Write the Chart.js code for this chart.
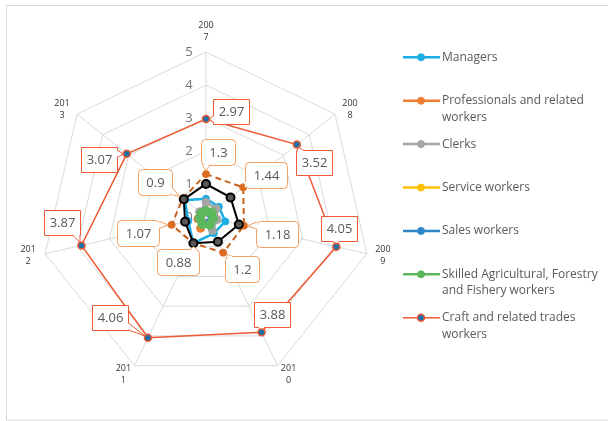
<!DOCTYPE html>
<html>
<head>
<meta charset="utf-8">
<script src="https://cdn.jsdelivr.net/npm/chart.js@4.4.0/dist/chart.umd.min.js"></script>
<style>
  html, body { margin: 0; padding: 0; background: #fff; }
  #wrap { position: relative; width: 608px; height: 421px; overflow: hidden; }
  canvas { display: block; }
</style>
</head>
<body>
<div id="wrap"><canvas id="chart" width="608" height="421"></canvas></div>
<script>
// Data
const years = ['2007', '2008', '2009', '2010', '2011', '2012', '2013'];
const tickValues = [0, 1, 2, 3, 4, 5];

const managers = [0.55, 0.5, 0.6, 0.55, 0.88, 0.55, 0.82];
const professionals = [0.2, 0.2, 0.22, 0.25, 0.38, 0.25, 0.2];
const clerks = [0.45, 0.4, 0.35, 0.45, 0.25, 0.2, 0.25];
const serviceWorkers = [0.15, 0.18, 0.18, 0.2, 0.2, 0.15, 0.15];
const salesWorkers = [0.15, 0.15, 0.18, 0.18, 0.2, 0.18, 0.15];
const skilledAgri = [0.18, 0.22, 0.22, 0.26, 0.24, 0.2, 0.18];
const craftWorkers = [2.97, 3.52, 4.05, 3.88, 4.06, 3.87, 3.07];
const dashedSeries = [1.3, 1.44, 1.18, 1.2, 0.88, 1.07, 0.9];
const blackSeries = [1.0, 0.95, 1.02, 0.83, 0.88, 0.65, 0.86];

const legendNames = [
    'Managers',
    'Professionals and related workers',
    'Clerks',
    'Service workers',
    'Sales workers',
    'Skilled Agricultural, Forestry and Fishery workers',
    'Craft and related trades workers'
];

const FONT = '"Open Sans", "Noto Sans", sans-serif';

// dataset builder: later series in the list are drawn on top
function series(label, data, color, opts) {
    opts = opts || {};
    return {
        label: label,
        data: data,
        fill: false,
        borderColor: color,
        backgroundColor: color,
        borderWidth: opts.width || 2.5,
        borderDash: opts.dash || [],
        pointRadius: opts.radius || 3.5,
        pointBackgroundColor: opts.pointFill || color,
        pointBorderColor: opts.pointBorder || color,
        pointBorderWidth: opts.pointBorderWidth || 1,
        showInLegend: opts.legend !== false
    };
}

const datasets = [
    series(legendNames[0], managers, '#1CADE4'),
    series(legendNames[1], professionals, '#ED7D31', { radius: 4 }),
    series(legendNames[2], clerks, '#A5A5A5', { radius: 4 }),
    series(legendNames[3], serviceWorkers, '#FFC000'),
    series(legendNames[4], salesWorkers, '#2E86C8'),
    series(legendNames[5], skilledAgri, '#5CB85C', { radius: 4.5, width: 3 }),
    series(legendNames[6], craftWorkers, '#EE5A33', { width: 1.5, pointFill: '#1D6FA5', pointBorder: '#EE5A33', pointBorderWidth: 1.5, radius: 3.5 }),
    series('', dashedSeries, '#C8611C', { width: 2, dash: [6, 4], pointFill: '#DD6B22', pointBorder: '#DD6B22', legend: false }),
    series('', blackSeries, '#000000', { width: 2, pointFill: '#595959', pointBorder: '#000000', pointBorderWidth: 2, radius: 4, legend: false })
];
datasets.forEach((d, i) => { d.order = datasets.length - i; });

// label placement relative to the scale (style only)
const yearLabelOffsets = [[0, -21], [15, -5], [16, 2], [11, 8.5], [-11, 8.5], [-17, 2], [-15, -5]];
const craftLabelOffsets = [[24.5, -7.5], [17, 18], [3, -18], [10.5, -17.5], [-37.5, -20], [-19.5, -22.7], [-27.7, 6]];
const dashedLabelOffsets = [[12, -22], [23.3, -12], [33, 8], [19, 16.6], [-15, 18.5], [-33.6, 8], [-28, -16.5]];

function boxPath(ctx, x, y, w, h, r) {
    ctx.beginPath();
    ctx.moveTo(x + r, y);
    ctx.lineTo(x + w - r, y);
    if (r) ctx.arcTo(x + w, y, x + w, y + r, r);
    ctx.lineTo(x + w, y + h - r);
    if (r) ctx.arcTo(x + w, y + h, x + w - r, y + h, r);
    ctx.lineTo(x + r, y + h);
    if (r) ctx.arcTo(x, y + h, x, y + h - r, r);
    ctx.lineTo(x, y + r);
    if (r) ctx.arcTo(x, y, x + r, y, r);
    ctx.closePath();
}

function drawCallout(ctx, text, px, py, off, style) {
    ctx.font = '13px ' + FONT;
    const w = Math.round(ctx.measureText(text).width + 2 * style.padX);
    const h = style.h;
    const cx = px + off[0], cy = py + off[1];
    const x0 = Math.round(cx - w / 2) + 0.5, y0 = Math.round(cy - h / 2) + 0.5;

    // pointer base on the box edge facing the point
    const rx = (px - cx) / (w / 2), ry = (py - cy) / (h / 2);
    let b1, b2;
    if (Math.abs(rx) >= Math.abs(ry)) {
        const ex = rx > 0 ? x0 + w : x0;
        const c = Math.min(Math.max(py, y0 + 4), y0 + h - 4);
        b1 = [ex, c - 3.5]; b2 = [ex, c + 3.5];
    } else {
        const ey = ry > 0 ? y0 + h : y0;
        const c = Math.min(Math.max(px, x0 + 4), x0 + w - 4);
        b1 = [c - 3.5, ey]; b2 = [c + 3.5, ey];
    }
    const mx = (b1[0] + b2[0]) / 2, my = (b1[1] + b2[1]) / 2;
    const dist = Math.hypot(px - mx, py - my) || 1;
    const ax = px - (px - mx) / dist * 3.5, ay = py - (py - my) / dist * 3.5;

    ctx.save();
    ctx.lineWidth = 1;
    ctx.strokeStyle = style.border;
    ctx.fillStyle = '#FFFFFF';
    boxPath(ctx, x0, y0, w, h, style.radius);
    ctx.fill();
    ctx.stroke();
    ctx.beginPath();
    ctx.moveTo(b1[0], b1[1]); ctx.lineTo(ax, ay); ctx.lineTo(b2[0], b2[1]);
    ctx.closePath();
    ctx.fill();
    ctx.beginPath();
    ctx.moveTo(b1[0], b1[1]); ctx.lineTo(ax, ay); ctx.lineTo(b2[0], b2[1]);
    ctx.stroke();
    // open the box edge under the pointer
    ctx.strokeStyle = '#FFFFFF';
    ctx.lineWidth = 1.4;
    ctx.beginPath();
    const ux = (b2[0] - b1[0]) / 7, uy = (b2[1] - b1[1]) / 7;
    ctx.moveTo(b1[0] + ux, b1[1] + uy); ctx.lineTo(b2[0] - ux, b2[1] - uy);
    ctx.stroke();

    ctx.fillStyle = '#595959';
    ctx.textAlign = 'center';
    ctx.textBaseline = 'middle';
    ctx.fillText(text, x0 + w / 2, y0 + h / 2 + 0.5);
    ctx.restore();
}

function wrapText(ctx, text, maxWidth) {
    const words = text.split(' ');
    const lines = [];
    let line = '';
    words.forEach(word => {
        const test = line ? line + ' ' + word : word;
        if (line && ctx.measureText(test).width > maxWidth) {
            lines.push(line);
            line = word;
        } else {
            line = test;
        }
    });
    if (line) lines.push(line);
    return lines;
}

const overlayPlugin = {
    id: 'overlay',
    beforeDraw(chart) {
        const ctx = chart.ctx;
        ctx.save();
        ctx.strokeStyle = '#D9D9D9';
        ctx.lineWidth = 1;
        ctx.strokeRect(6.5, 5.5, 640, 414.5);
        ctx.restore();
    },
    beforeDatasetsDraw(chart) {
        const ctx = chart.ctx;
        const scale = chart.scales.r;
        ctx.save();
        // value ticks
        ctx.font = '13px ' + FONT;
        ctx.fillStyle = '#767676';
        ctx.textAlign = 'center';
        ctx.textBaseline = 'middle';
        tickValues.forEach(v => {
            const y = scale.yCenter - scale.getDistanceFromCenterForValue(v);
            ctx.fillText(String(v), scale.xCenter - 17, y);
        });
        // year labels (wrapped like the original)
        ctx.font = '9px ' + FONT;
        ctx.fillStyle = '#333333';
        years.forEach((yr, i) => {
            const p = scale.getPointPosition(i, scale.drawingArea);
            const cx = p.x + yearLabelOffsets[i][0];
            const cy = p.y + yearLabelOffsets[i][1];
            ctx.fillText(yr.slice(0, 3), cx, cy - 6);
            ctx.fillText(yr.slice(3), cx, cy + 6);
        });
        ctx.restore();
    },
    afterDatasetsDraw(chart) {
        const ctx = chart.ctx;
        const scale = chart.scales.r;
        dashedSeries.forEach((v, i) => {
            const p = scale.getPointPositionForValue(i, v);
            drawCallout(ctx, String(v), p.x, p.y, dashedLabelOffsets[i], { border: '#F4A062', radius: 4, padX: 8, h: 26 });
        });
        craftWorkers.forEach((v, i) => {
            const p = scale.getPointPositionForValue(i, v);
            drawCallout(ctx, String(v), p.x, p.y, craftLabelOffsets[i], { border: '#EE5A33', radius: 0, padX: 5, h: 25 });
        });
    },
    afterDraw(chart) {
        const ctx = chart.ctx;
        ctx.save();
        ctx.font = '12px ' + FONT;
        ctx.textBaseline = 'middle';
        chart.data.datasets.filter(d => d.showInLegend).forEach((d, i) => {
            const y = 57.3 + i * 43.4;
            ctx.strokeStyle = d.borderColor;
            ctx.lineWidth = Math.min(d.borderWidth, 2.5);
            ctx.beginPath();
            ctx.moveTo(403, y);
            ctx.lineTo(440, y);
            ctx.stroke();
            ctx.beginPath();
            ctx.arc(421, y, 3.5, 0, Math.PI * 2);
            ctx.fillStyle = d.pointBackgroundColor;
            ctx.fill();
            ctx.lineWidth = d.pointBorderWidth;
            ctx.strokeStyle = d.pointBorderColor;
            ctx.stroke();
            ctx.fillStyle = '#595959';
            ctx.textAlign = 'left';
            wrapText(ctx, d.label, 158).forEach((line, k) => {
                ctx.fillText(line, 442, y + k * 16.6);
            });
        });
        ctx.restore();
    }
};

new Chart(document.getElementById('chart'), {
    type: 'radar',
    data: { labels: years, datasets: datasets },
    options: {
        responsive: false,
        animation: false,
        devicePixelRatio: 1,
        layout: { padding: { left: 41, right: 237, top: 52, bottom: 39 } },
        plugins: { legend: { display: false }, tooltip: { enabled: false } },
        elements: { line: { tension: 0 } },
        scales: {
            r: {
                min: 0,
                max: 5,
                ticks: { display: false, stepSize: 1 },
                pointLabels: { display: false },
                grid: { color: '#D9D9D9', lineWidth: 1 },
                angleLines: { color: '#D9D9D9', lineWidth: 1 }
            }
        }
    },
    plugins: [overlayPlugin]
});
</script>
</body>
</html>
